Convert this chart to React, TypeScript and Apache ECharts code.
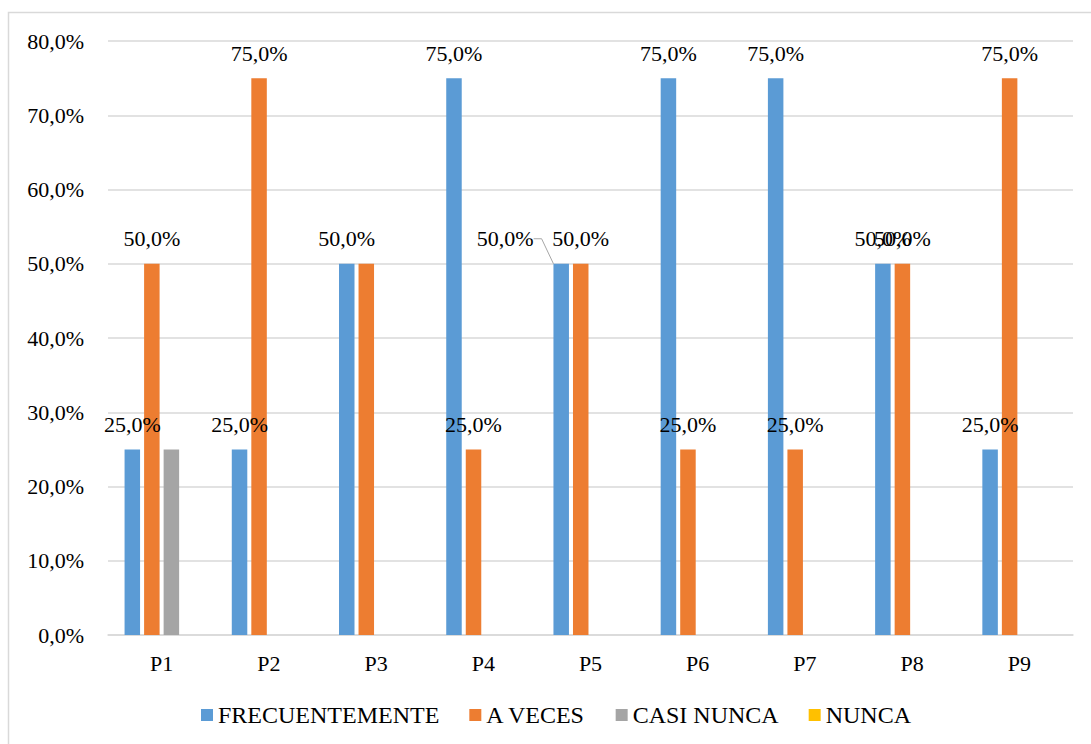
import React, { useEffect, useRef } from "react";
import * as echarts from "echarts";

const categories = ["P1", "P2", "P3", "P4", "P5", "P6", "P7", "P8", "P9"];
const seriesNames = ["FRECUENTEMENTE", "A VECES", "CASI NUNCA", "NUNCA"];
const frecuentemente = [25, 25, 50, 75, 50, 75, 75, 50, 25];
const aVeces = [50, 75, 50, 25, 50, 25, 25, 50, 75];
const casiNunca = [25, 0, 0, 0, 0, 0, 0, 0, 0];
const nunca = [0, 0, 0, 0, 0, 0, 0, 0, 0];
const colors = ["#5b9bd5", "#ed7d31", "#a5a5a5", "#ffc000"];
const showLabels = [true, true, false, false];

const FONT = "Liberation Serif";
const fmt = (v: number) => v.toFixed(1).replace(".", ",") + "%";

export default function App() {
  const ref = useRef<HTMLDivElement>(null);
  useEffect(() => {
    if (!ref.current) return;
    const chart = echarts.init(ref.current, undefined, { renderer: "svg" });
    const allData = [frecuentemente, aVeces, casiNunca, nunca];
    const series = allData.map((arr, si) => ({
      name: seriesNames[si],
      type: "bar",
      barWidth: 15.5,
      barGap: "26%",
      itemStyle: { color: colors[si] },
      label: {
        show: showLabels[si],
        position: "top",
        distance: 14,
        color: "#000",
        fontFamily: FONT,
        fontSize: 22,
        formatter: (p: any) => (p.value ? fmt(p.value) : ""),
      },
      labelLayout:
        si === 0
          ? (p: any) => (p.dataIndex === 4 ? { dx: -56, dy: 0 } : {})
          : undefined,
      data: arr.map((v, i) => {
        if (si === 0 && i === 4)
          return {
            value: v,
            labelLine: {
              show: true,
              length2: 8,
              lineStyle: { color: "#a6a6a6", width: 1 },
            },
          };
        if (si === 1 && i === 2) return { value: v, label: { show: false } };
        return v;
      }),
    }));
    chart.setOption({
      animation: false,
      graphic: [
        {
          type: "rect",
          shape: { x: 8.5, y: 12.5, width: 1100, height: 760 },
          style: { fill: "none", stroke: "#d9d9d9", lineWidth: 1.5 },
          silent: true,
        },
      ],
      grid: { left: 108, right: 18, top: 41, bottom: 109, containLabel: false },
      legend: {
        left: 196,
        top: 698,
        itemWidth: 12,
        itemHeight: 12,
        itemGap: 30,
        icon: "rect",
        textStyle: { fontFamily: FONT, fontSize: 24, color: "#000" },
        data: seriesNames,
      },
      xAxis: {
        type: "category",
        data: categories,
        axisTick: { show: false },
        axisLine: { lineStyle: { color: "#d9d9d9", width: 1.5 } },
        axisLabel: { fontFamily: FONT, fontSize: 22, color: "#000", margin: 17 },
      },
      yAxis: {
        type: "value",
        min: 0,
        max: 80,
        interval: 10,
        axisLine: { show: false },
        axisTick: { show: false },
        splitLine: { lineStyle: { color: "#d9d9d9", width: 1.5 } },
        axisLabel: {
          fontFamily: FONT,
          fontSize: 22,
          color: "#000",
          margin: 24,
          formatter: (v: number) => fmt(v),
        },
      },
      series,
    });
    return () => chart.dispose();
  }, []);
  return (
    <div
      ref={ref}
      style={{ position: "absolute", left: 0, top: 0, width: 1091, height: 744 }}
    />
  );
}
